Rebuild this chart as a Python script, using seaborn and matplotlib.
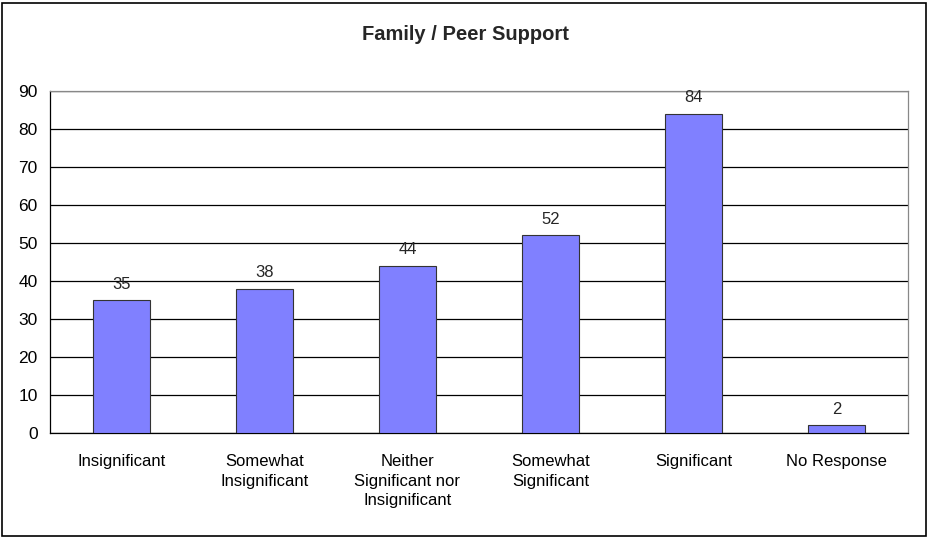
import matplotlib
matplotlib.use("Agg")
import matplotlib.pyplot as plt
import seaborn as sns
import pandas as pd
from matplotlib.patches import Rectangle

categories = ["Insignificant", "Somewhat\nInsignificant", "Neither\nSignificant nor\nInsignificant",
              "Somewhat\nSignificant", "Significant", "No Response"]
values = [35, 38, 44, 52, 84, 2]
yticks = [0, 10, 20, 30, 40, 50, 60, 70, 80, 90]
title = "Family / Peer Support"

sns.set_style("white")
plt.rcParams['font.family'] = ['Liberation Sans', 'DejaVu Sans']

df = pd.DataFrame({"cat": categories, "val": values})

fig = plt.figure(figsize=(9.3, 5.38), dpi=100)
ax = fig.add_axes([50/930, 1-433/538, 858/930, 342/538])

sns.barplot(data=df, x="cat", y="val", ax=ax, color="#8080FF", width=0.4,
            edgecolor="#333333", linewidth=0.8, saturation=1, zorder=3)

ax.set_ylim(0, 90)
ax.set_xlim(-0.5, len(categories) - 0.5)
ax.set_yticks(yticks)
ax.yaxis.grid(True, color="black", linewidth=0.9, zorder=0)
ax.set_axisbelow(True)
ax.set_xlabel("")
ax.set_ylabel("")

ax.set_xticks(range(len(categories)))
ax.set_xticklabels(categories, fontsize=12, linespacing=1.4, va="top")
ax.set_xticks([i - 0.5 for i in range(len(categories) + 1)], minor=True)
ax.tick_params(axis="x", which="major", length=0, pad=15)
ax.tick_params(axis="x", which="minor", length=5, width=0.8, color="black", direction="out")
ax.tick_params(axis="y", length=5, width=0.8, color="black", direction="out", labelsize=12.5, pad=4)
ax.tick_params(axis="both", labelcolor="black")

for side in ["left", "bottom"]:
    ax.spines[side].set_color("black")
    ax.spines[side].set_linewidth(0.9)
for side in ["top", "right"]:
    ax.spines[side].set_visible(True)
    ax.spines[side].set_color("#888888")
    ax.spines[side].set_linewidth(0.9)

for c in ax.containers:
    ax.bar_label(c, labels=[str(v) for v in values], padding=6, fontsize=12)

fig.text(0.5, 1-35/538, title, ha="center", va="center", fontsize=14.5, fontweight="bold")

fig.patches.append(Rectangle((2/930, 2/538), 924/930, 533/538, transform=fig.transFigure,
                             fill=False, edgecolor="black", linewidth=1.2))

fig.savefig("out.png", dpi=100)
